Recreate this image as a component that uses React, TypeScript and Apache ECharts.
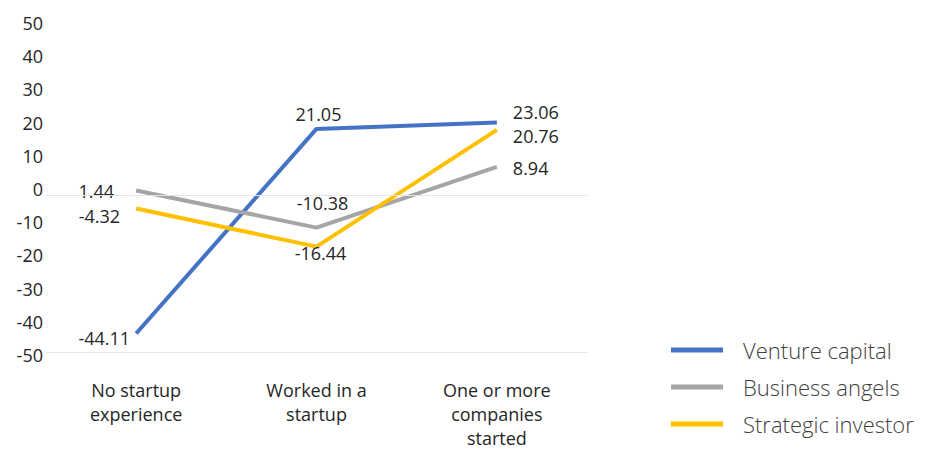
import React, { useEffect, useRef } from "react";
import * as echarts from "echarts";

const categories = ["No startup\nexperience", "Worked in a\nstartup", "One or more\ncompanies\nstarted"];
const ventureCapital = [-44.11, 21.05, 23.06];
const businessAngels = [1.44, -10.38, 8.94];
const strategicInvestor = [-4.32, -16.44, 20.76];
const yTicks = { min: -50, max: 50, interval: 10 };

const FONT = "'Open Sans', 'Noto Sans', sans-serif";
const TXT = "#262626";

function labelAt(positions: string[], offsets: number[][], distances: number[]) {
  return positions.map((p, i) => ({
    show: true,
    position: p,
    distance: distances[i],
    offset: offsets[i],
    color: TXT,
    fontSize: 18,
    lineHeight: 18,
    fontFamily: FONT,
    formatter: (d: any) => d.value.toFixed(2),
  }));
}

export default function App() {
  const ref = useRef<HTMLDivElement>(null);
  useEffect(() => {
    if (!ref.current) return;
    const chart = echarts.init(ref.current, undefined, { renderer: "svg" });

    const mk = (name: string, color: string, data: number[], pos: string[], offs: number[][], dist: number[]) => {
      const labels = labelAt(pos, offs, dist);
      return {
        name,
        type: "line",
        xAxisIndex: 0,
        yAxisIndex: 0,
        symbol: "none",
        showSymbol: true,
        lineStyle: { width: 4, color },
        itemStyle: { color },
        data: data.map((v, i) => ({ value: v, label: labels[i], symbol: "circle", symbolSize: 0 })),
      };
    };

    const series: any[] = [
      mk("Venture capital", "#4472C4", ventureCapital, ["left", "top", "right"], [[0, 4], [2, 0], [10, -11]], [6, 6, 6]),
      mk("Business angels", "#A5A5A5", businessAngels, ["left", "top", "right"], [[-16, 1], [6, -10], [10, 1]], [6, 6, 6]),
      mk("Strategic investor", "#FFC000", strategicInvestor, ["left", "bottom", "right"], [[-10, 7], [4, -3], [10, 6]], [6, 0, 6]),
    ];
    series[0].markLine = {
      silent: true,
      symbol: "none",
      label: { show: false },
      lineStyle: { color: "#E5E5E5", width: 1, type: "solid" },
      data: [{ yAxis: 0 }],
    };

    chart.setOption({
      animation: false,
      backgroundColor: "#ffffff",
      grid: [
        { left: 46, right: 343, top: 38, bottom: 89, containLabel: false },
        { left: 46, right: 343, top: 23, bottom: 95, containLabel: false },
      ],
      legend: {
        orient: "vertical",
        left: 666,
        top: 332,
        icon: "rect",
        itemWidth: 52,
        itemHeight: 5,
        itemGap: 11,
        textStyle: { fontSize: 22, lineHeight: 26, color: "#404040", fontFamily: FONT, fontWeight: 300, padding: [0, 0, 0, 15] },
        data: ["Venture capital", "Business angels", "Strategic investor"],
      },
      xAxis: [
        {
          type: "category",
          gridIndex: 0,
          data: categories,
          boundaryGap: true,
          axisLine: { show: true, onZero: false, lineStyle: { color: "#E5E5E5", width: 1 } },
          axisTick: { show: false },
          axisLabel: { color: TXT, fontSize: 18, lineHeight: 24, margin: 26, fontFamily: FONT, interval: 0 },
        },
        { type: "category", gridIndex: 1, data: categories, show: false },
      ],
      yAxis: [
        {
          type: "value",
          gridIndex: 0,
          min: yTicks.min,
          max: yTicks.max,
          interval: yTicks.interval,
          axisLine: { show: false },
          axisTick: { show: false },
          splitLine: { show: false },
          axisLabel: { show: false },
        },
        {
          type: "value",
          gridIndex: 1,
          min: yTicks.min,
          max: yTicks.max,
          interval: yTicks.interval,
          axisLine: { show: false },
          axisTick: { show: false },
          splitLine: { show: false },
          axisLabel: { color: TXT, fontSize: 18, fontFamily: FONT, margin: 3, verticalAlign: "middle" },
        },
      ],
      series,
    });
    return () => chart.dispose();
  }, []);
  return <div ref={ref} style={{ position: "absolute", left: 0, top: 0, width: 930, height: 450 }} />;
}
